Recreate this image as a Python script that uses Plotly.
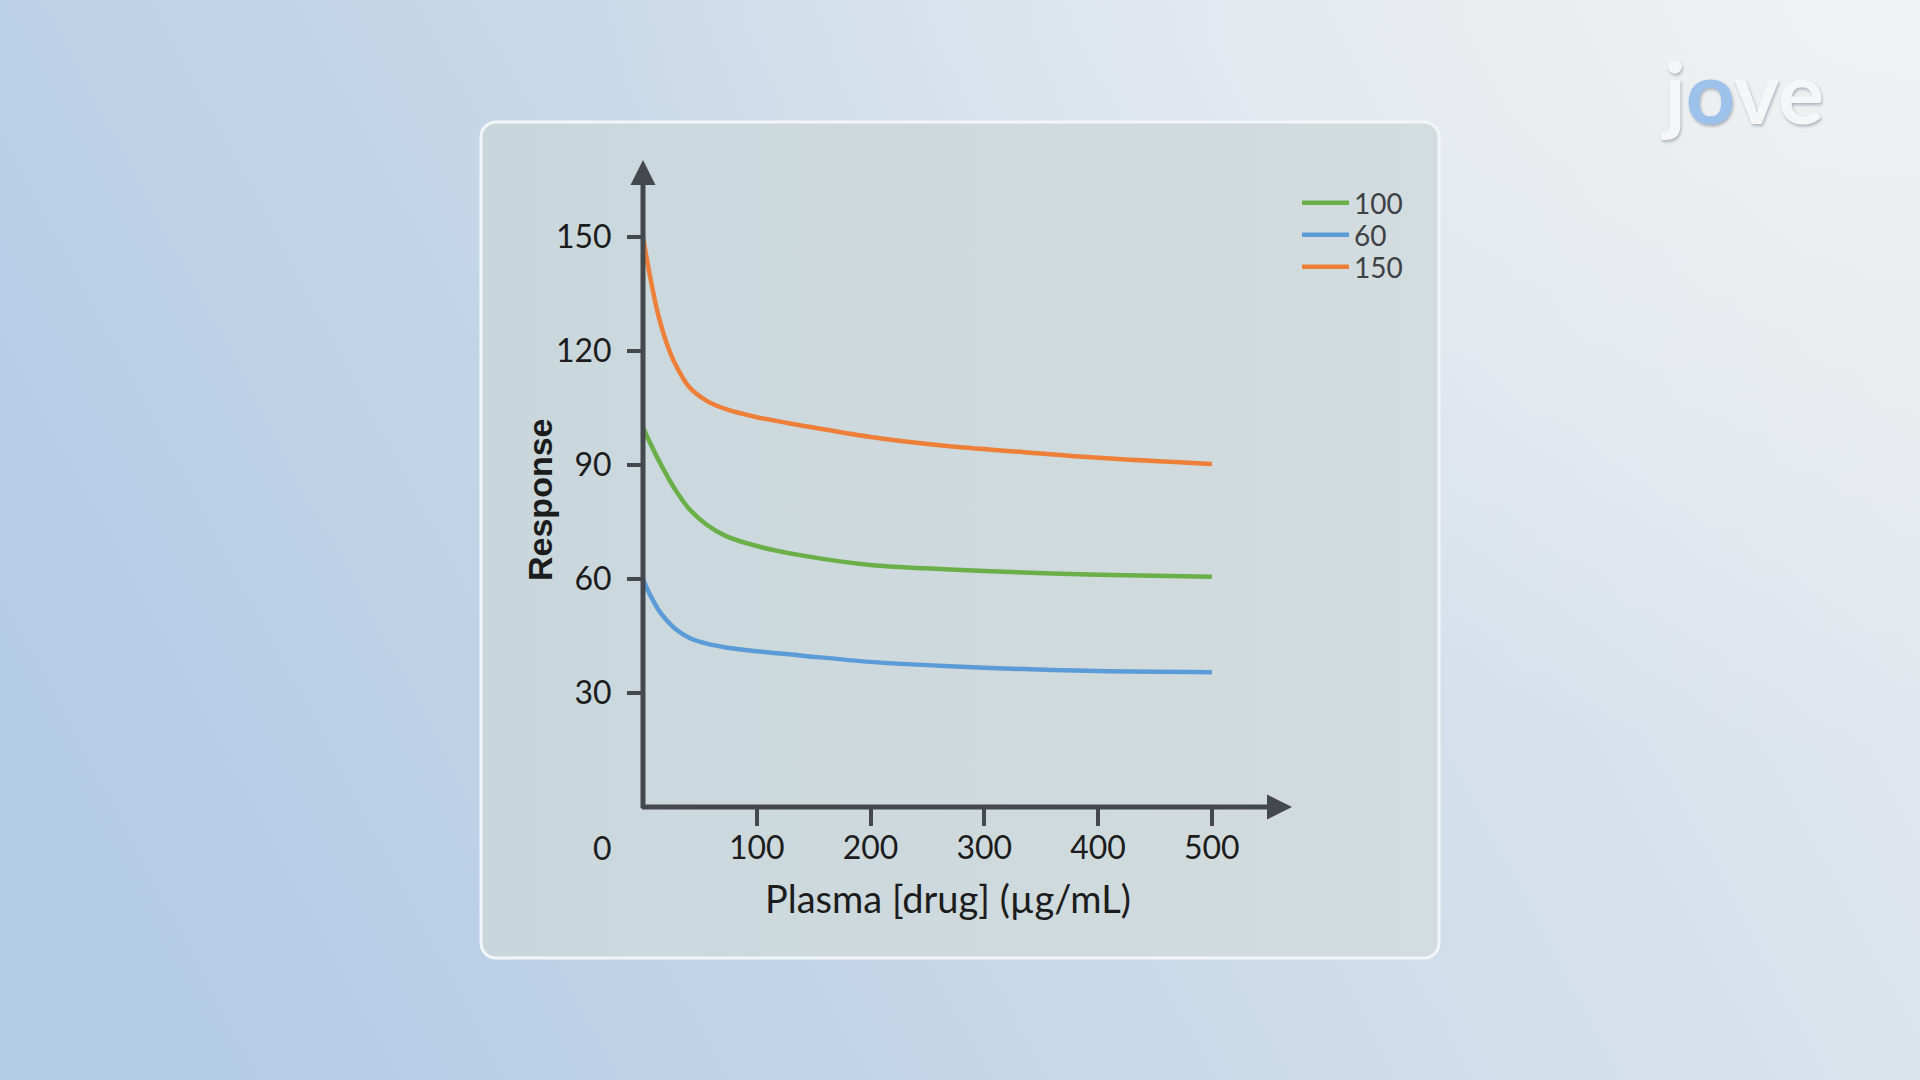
import base64
import plotly.graph_objects as go

# curves: response vs plasma drug concentration (ug/mL)
dose = [0, 6, 13, 20, 28, 41, 56, 73, 100, 138, 200, 265, 335, 400, 500]
resp_100 = [100, 96.0, 91.7, 87.8, 83.7, 78.3, 74.3, 71.3, 68.7, 66.3, 63.7, 62.6, 61.7, 61.1, 60.6]
resp_60 = [60, 56.0, 52.2, 49.4, 47.0, 44.5, 43.0, 42.0, 41.0, 39.9, 38.2, 37.1, 36.3, 35.8, 35.5]
resp_150 = [150, 140.0, 130.0, 122.8, 116.8, 110.4, 106.9, 104.7, 102.6, 100.5, 97.4, 95.1, 93.4, 91.9, 90.3]

series = [("100", resp_100, "#6aaf47"),
          ("60", resp_60, "#5b9bd8"),
          ("150", resp_150, "#ee7f38")]

x_ticks = [100, 200, 300, 400, 500]
y_ticks = [30, 60, 90, 120, 150]

W, H = 1920, 1080
axis_col = "#45494d"
txt_col = "#1c1c1c"

# background gradient + card, one svg image behind the plot
svg = f'''<svg xmlns="http://www.w3.org/2000/svg" width="{W}" height="{H}" viewBox="0 0 {W} {H}" preserveAspectRatio="none">
<defs>
<linearGradient id="bg" x1="0" y1="0.65" x2="1" y2="0.35">
<stop offset="0" stop-color="#b3cce6"/>
<stop offset="0.5" stop-color="#cbdae9"/>
<stop offset="1" stop-color="#e4e9ee"/>
</linearGradient>
<radialGradient id="glow" cx="1" cy="0" r="0.7">
<stop offset="0" stop-color="#f2f3f3" stop-opacity="0.8"/>
<stop offset="1" stop-color="#f2f3f3" stop-opacity="0"/>
</radialGradient>
<linearGradient id="pn" x1="0" y1="0" x2="1" y2="0">
<stop offset="0" stop-color="#c9d7dc"/>
<stop offset="1" stop-color="#d3dcde"/>
</linearGradient>
</defs>
<rect width="{W}" height="{H}" fill="url(#bg)"/>
<rect width="{W}" height="{H}" fill="url(#glow)"/>
<rect x="481" y="122" width="958" height="836" rx="15" fill="url(#pn)" stroke="#f3f6f8" stroke-width="3"/>
</svg>'''
bg_src = "data:image/svg+xml;base64," + base64.b64encode(svg.encode()).decode()

x_end = 570.5
y_end = 170.3

fig = go.Figure()
legend_rows = [203, 235, 267]
for i, (name, ys, col) in enumerate(series):
    lg = "legend" if i == 0 else f"legend{i + 1}"
    fig.add_trace(go.Scatter(x=dose, y=ys, name=name, mode="lines", legend=lg, showlegend=True,
                             line=dict(color=col, width=4.5, shape="spline", smoothing=1.0),
                             cliponaxis=False))
    fig.update_layout({lg: dict(x=1297 / W, y=1 - legend_rows[i] / H, xanchor="left", yanchor="middle",
                                bgcolor="rgba(0,0,0,0)", itemwidth=47, visible=True,
                                font=dict(family="Lato", size=28, color="#3e4246"))})

fig.update_layout(
    width=W, height=H,
    margin=dict(l=0, r=0, t=0, b=0),
    showlegend=True,
    paper_bgcolor="#c8d6e6",
    plot_bgcolor="rgba(0,0,0,0)",
    images=[dict(source=bg_src, xref="paper", yref="paper", x=0, y=1,
                 sizex=1, sizey=1, xanchor="left", yanchor="top",
                 sizing="stretch", layer="below")],
    xaxis=dict(domain=[643 / W, 1292 / W], range=[0, x_end],
               showgrid=False, zeroline=False, showline=False,
               ticks="outside", ticklen=18, tickwidth=4, tickcolor=axis_col,
               ticklabelstandoff=-5,
               tickvals=x_ticks, tickfont=dict(family="Lato", size=32, color=txt_col)),
    yaxis=dict(domain=[1 - 807 / H, 1 - 160 / H], range=[0, y_end],
               showgrid=False, zeroline=False, showline=False,
               ticks="outside", ticklen=15, tickwidth=4, tickcolor=axis_col,
               ticklabelstandoff=9,
               tickvals=y_ticks, tickfont=dict(family="Lato", size=32, color=txt_col)),
)

# axis lines with arrowheads
fig.add_annotation(x=x_end, y=0, ax=-2.2, ay=0, xref="x", yref="y", axref="x", ayref="y",
                   text="", showarrow=True, arrowhead=2, arrowsize=1, arrowwidth=5,
                   arrowcolor=axis_col, standoff=0, startstandoff=0)
fig.add_annotation(x=0, y=y_end, ax=0, ay=-0.7, xref="x", yref="y", axref="x", ayref="y",
                   text="", showarrow=True, arrowhead=2, arrowsize=1, arrowwidth=5,
                   arrowcolor=axis_col, standoff=0, startstandoff=0)

# origin label and axis titles
fig.add_annotation(x=602 / W, y=1 - 847 / H, xref="paper", yref="paper", text="0",
                   xanchor="center", yanchor="middle", showarrow=False,
                   font=dict(family="Lato", size=32, color=txt_col))
fig.add_annotation(x=948 / W, y=1 - 898 / H, xref="paper", yref="paper",
                   text="Plasma [drug] (µg/mL)", xanchor="center", yanchor="middle",
                   showarrow=False, font=dict(family="Lato", size=38, color=txt_col))
fig.add_annotation(x=540 / W, y=1 - 500 / H, xref="paper", yref="paper",
                   text="Response", textangle=-90, xanchor="center", yanchor="middle",
                   showarrow=False,
                   font=dict(family="Liberation Sans", size=34, color=txt_col, weight="bold"))

# logo
fig.add_annotation(x=1742 / W, y=1 - 90 / H, xref="paper", yref="paper",
                   text="j<span style='color:#9cc2ec'>o</span>ve", xanchor="center", yanchor="middle",
                   showarrow=False,
                   font=dict(family="Lato", size=86, color="#f5f6f8", weight="bold",
                             shadow="1px 2px 3px rgba(60,70,80,0.35)"))

fig.write_html("out.html", config={"displayModeBar": False},
               post_script="document.body.style.margin='0';document.body.style.overflow='hidden';")
